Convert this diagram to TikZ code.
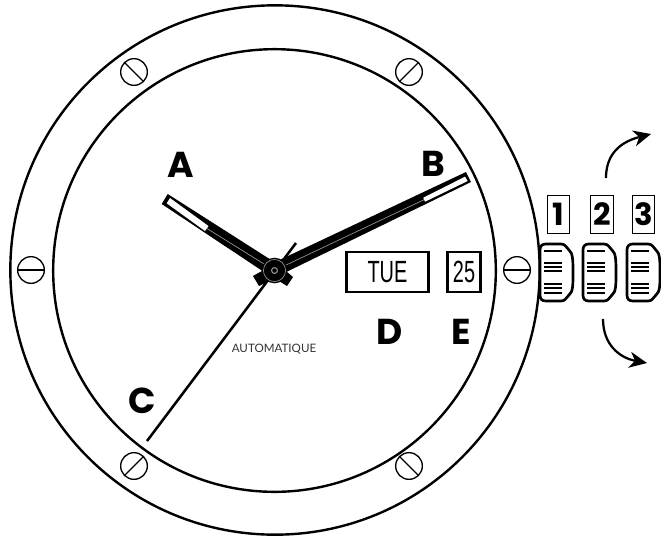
\documentclass[tikz,border=0pt]{standalone}
\usepackage{fontspec}
\usepackage{xcolor}
\usetikzlibrary{calc,arrows.meta,positioning}
\setmainfont{Lato}
\newfontfamily\datefont{Liberation Sans}
\newfontfamily\markfont{Poppins}
\definecolor{dialgray}{RGB}{150,150,150}
\tikzset{
  letterlabel/.style={font=\markfont\fontsize{27}{27}\selectfont\bfseries, inner sep=0pt},
  numberlabel/.style={draw, line width=0.7pt, font=\markfont\fontsize{23}{23}\selectfont\bfseries, inner sep=0pt, minimum width=17pt, minimum height=28pt},
  datebox/.style={draw, line width=2.1pt, inner sep=0pt},
  screwhead/.style={draw, line width=1pt, fill=white},
  crownedge/.style={line width=2pt, line join=round},
  crowngroove/.style={line width=0.9pt},
  turnarrow/.style={line width=1.7pt, -{Stealth[length=4.6mm,width=4.2mm,inset=1.4mm]}}
}
\begin{document}
\begin{tikzpicture}[x=0.75pt,y=-0.75pt]
\useasboundingbox (0,0) rectangle (661,537);
\fill[white] (0,0) rectangle (661,537);
\coordinate (hub) at (274.5,270.5);
% case
\draw[line width=1.8pt] (275,270) circle (198.5pt);
\draw[line width=1.8pt] (274.5,270.5) circle (166pt);
\foreach \sx/\sy/\sa in {134/72/45,409/72/-45,134/466/-45,409/466/45,31/270/0,517/270/0}{
  \draw[screwhead] (\sx,\sy) circle (10pt);
  \draw[line width=1pt] ($(\sx,\sy)+(\sa:13.3)$) -- ($(\sx,\sy)+(\sa+180:13.3)$);
}
% second hand
\coordinate (secondtip) at (147,441);
\coordinate (secondtail) at (296,243);
\draw[line width=1.9pt] (secondtip) -- (secondtail);
% hand tails
\fill (253,276) -- (259,286) -- (276,278) -- (269,267) -- cycle;
\fill (293,277) -- (287,286) -- (271,276) -- (279,265) -- cycle;
% hour hand
\fill (167.7,194) -- (161.7,204) -- (270,276) -- (279,265) -- cycle;
\fill[white] (170,198) -- (166.7,203.3) -- (205,231) -- (208.5,226) -- cycle;
\draw[dialgray, line width=0.5pt] (207,228.5) -- (hub);
% minute hand
\fill (466,172) -- (471,182) -- (277,276.5) -- (271,264) -- cycle;
\fill[white] (465,176.7) -- (467.7,181) -- (425,201.7) -- (423.3,197.7) -- cycle;
\draw[dialgray, line width=0.5pt] (424,199.7) -- (hub);
% hub
\fill (hub) circle (9.6pt);
\draw[dialgray, line width=0.5pt] (hub) circle (8.3pt);
\draw[dialgray, line width=0.8pt] (hub) circle (2.2pt);
% date
\node[datebox, minimum width=62pt, minimum height=30pt] (daybox) at (387.5,272) {\datefont\fontsize{23}{23}\selectfont\scalebox{0.65}[1]{TUE}};
\node[datebox, minimum width=25pt, minimum height=30pt] (datenum) at (464,272) {\datefont\fontsize{23}{23}\selectfont\scalebox{0.65}[1]{25}};
\node[text=black!80, font=\fontsize{8.7}{9}\selectfont] (brand) at (274,349.5) {AUTOMATIQUE};
% hand and window letters
\node[letterlabel] (letterA) at (181,165) {A};
\node[letterlabel] (letterB) at (433,164) {B};
\node[letterlabel] (letterC) at (142,400.5) {C};
\node[letterlabel] (letterD) at (390,332) {D};
\node[letterlabel] (letterE) at (461,332) {E};
% crown positions
\node[numberlabel] (posone) at (558.5,214.5) {1};
\node[numberlabel] (postwo) at (602,214.5) {2};
\node[numberlabel] (posthree) at (643.5,214.5) {3};
\foreach \cx in {540,583,627}{
  \begin{scope}[shift={(\cx,245)}]
    \draw[crownedge, fill=white] (6,-1) -- (21,-1) .. controls (26,-1) and (26,3) .. (29,5) .. controls (33,8) and (33,16) .. (33,28) .. controls (33,40) and (33,47) .. (29,50) .. controls (26,52) and (26,56) .. (21,56) -- (6,56) .. controls (2,56) and (0,54) .. (0,50) -- (0,5) .. controls (0,1) and (2,-1) .. (6,-1) -- cycle;
    \foreach \gy in {6,18,22,26,39,43,48}{
      \draw[crowngroove] (4,\gy) -- (22,\gy);
    }
  \end{scope}
}
% pull out arrows
\coordinate (upstart) at (606,178);
\coordinate (upend) at (651,134);
\coordinate (downstart) at (603,319);
\coordinate (downend) at (647,363);
\draw[turnarrow] (upstart) .. controls (606,158) and (616,143) .. (upend);
\draw[turnarrow] (downstart) .. controls (603,345) and (620,358) .. (downend);
\end{tikzpicture}
\end{document}
